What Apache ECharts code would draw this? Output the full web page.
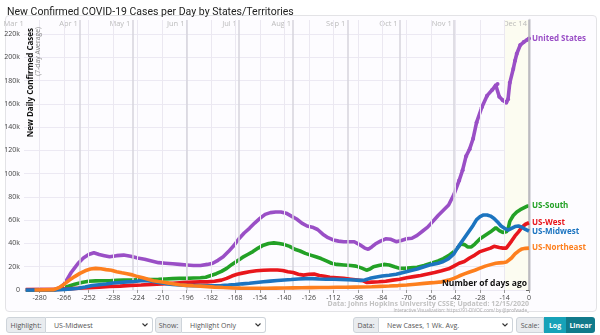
<!DOCTYPE html>
<html><head><meta charset="utf-8">
<script src="https://cdn.jsdelivr.net/npm/echarts@6/dist/echarts.min.js"></script>
<style>
html,body{margin:0;padding:0;background:#fff;}
#wrap{position:relative;width:600px;height:335px;overflow:hidden;font-family:'Open Sans',Roboto,sans-serif;}
#panel{position:absolute;left:5px;top:15px;width:592px;height:297px;box-sizing:border-box;border:1px solid #e3e3e6;border-radius:4px;background:#fdfcff;}
#chart{position:absolute;left:0;top:0;width:600px;height:335px;}
.ctl{position:absolute;top:317px;height:16px;display:flex;font-size:7px;color:#555;z-index:5;}
.lab{background:#e9ecef;border:1px solid #ced4da;border-radius:3px 0 0 3px;display:flex;align-items:center;justify-content:center;box-sizing:border-box;}
.sel{background:#fff;border:1px solid #ced4da;border-left:none;border-radius:0 3px 3px 0;display:flex;align-items:center;justify-content:space-between;padding:0 4px 0 8px;box-sizing:border-box;}
.btn{display:flex;align-items:center;justify-content:center;color:#fff;font-weight:bold;box-sizing:border-box;}
</style></head>
<body><div id="wrap">
<div id="panel"></div>
<div id="chart"></div>
<div class="ctl" style="left:6px;"><div class="lab" style="width:40px">Highlight:</div><div class="sel" style="width:107px"><span>US-Midwest</span><svg width="6" height="4"><path d="M0.5 0.5 L3 3 L5.5 0.5" stroke="#333" stroke-width="1.1" fill="none"/></svg></div></div>
<div class="ctl" style="left:155px;"><div class="lab" style="width:27px">Show:</div><div class="sel" style="width:84px"><span>Highlight Only</span><svg width="6" height="4"><path d="M0.5 0.5 L3 3 L5.5 0.5" stroke="#333" stroke-width="1.1" fill="none"/></svg></div></div>
<div class="ctl" style="left:353px;"><div class="lab" style="width:26px">Data:</div><div class="sel" style="width:134px"><span>New Cases, 1 Wk. Avg.</span><svg width="6" height="4"><path d="M0.5 0.5 L3 3 L5.5 0.5" stroke="#333" stroke-width="1.1" fill="none"/></svg></div></div>
<div class="ctl" style="left:516px;"><div class="lab" style="width:28px">Scale:</div><div class="btn" style="width:22px;background:#17a2b8;">Log</div><div class="btn" style="width:29px;background:#117a8b;border-radius:0 3px 3px 0;">Linear</div></div>
</div>
<script>
// ---- data (values in thousands of cases, 7-day average) ----
const xTicks = [-280,-266,-252,-238,-224,-210,-196,-182,-168,-154,-140,-126,-112,-98,-84,-70,-56,-42,-28,-14,0];
const monthDays = [-288,-257,-227,-196,-166,-135,-104,-74,-43,0];
const monthLabels = ['Mar 1','Apr 1','May 1','Jun 1','Jul 1','Aug 1','Sep 1','Oct 1','Nov 1','Dec 14'];
const yTickStep = 20000;

const usDays = [-288,-271,-268,-266,-264,-262,-260,-258,-255,-252,-249,-246,-243,-240,-236,-232,-228,-224,-220,-216,-212,-208,-204,-200,-196,-192,-188,-184,-181,-178,-175,-172,-169,-166,-163,-160,-157,-154,-151,-148,-145,-142,-139,-136,-133,-130,-127,-124,-121,-118,-115,-112,-109,-106,-103,-100,-97,-94,-92,-90,-88,-85,-82,-79,-76,-73,-70,-67,-64,-61,-58,-55,-52,-49,-46,-43,-40,-38,-36,-34,-32,-30,-27,-24,-21,-19,-18,-17,-15,-13,-12,-11,-9,-8,-7,-5,-3,-1,0];
const usVals = [0.1,0.5,2.5,5,10,15,19,23,27.5,30.5,32,30.5,29.5,28.5,29.5,30,29,27.5,26.5,25,23.5,23,22.5,22,21.5,21,21,22,23,25.5,28.5,33,38,44,49,53,57.5,61.5,65,66.5,67,67,66,63.5,61,57.5,55,54,52,48,45,43,42,41.5,41.5,41.5,39,36,35,37,39.5,42,44,43.6,41.5,42.5,44,44.5,47,50.5,54,59,64,68.5,73,82,94,103,115,121,130,144,157,167,172,176,177,166,163,161,164,178,190,197,203,210.5,213,215,216];

const southDays = [-288,-272,-268,-264,-260,-256,-252,-248,-244,-240,-236,-232,-228,-224,-220,-216,-212,-208,-204,-200,-196,-192,-188,-185,-182,-179,-176,-173,-170,-167,-164,-161,-158,-155,-152,-149,-146,-143,-140,-137,-134,-131,-128,-125,-122,-119,-116,-113,-110,-106,-102,-99,-96,-93,-91,-89,-86,-83,-80,-77,-74,-71,-68,-64,-60,-56,-52,-49,-46,-43,-41,-39,-37,-35,-33,-31,-28,-25,-22,-19,-18,-17,-15,-13,-12,-11,-9,-7,-5,-3,-1,0];
const southVals = [0,0.2,1,3,5,6.5,7.5,7.8,8,8,8.3,8.6,8.6,8.8,9,9,9.2,9.5,9.8,10,10,10.3,10.5,11,12.5,14,16,18.6,22,25,28,30.5,33,36,38.5,40,40.5,40,39,37.5,35,33.5,31.5,30,28.5,27,25,23,22,21.5,21,20.5,19,17,18,20,21,22,21.5,20,18.6,18.6,19,19.5,21,23,25,27,29.5,33,36,39.5,39,37,37,39.5,44,47,50,53.5,55,51,49.5,50,52,59,64,67,69,70.5,72,72.5];

const westDays = [-288,-270,-264,-258,-252,-246,-240,-234,-228,-222,-216,-210,-204,-198,-192,-188,-184,-180,-176,-173,-170,-167,-164,-160,-156,-152,-148,-144,-141,-138,-135,-132,-129,-126,-123,-120,-117,-114,-110,-106,-102,-98,-95,-93,-90,-86,-82,-78,-74,-70,-66,-62,-58,-54,-50,-46,-43,-40,-37,-34,-31,-28,-25,-22,-20,-19,-17,-15,-13,-12,-10,-8,-6,-4,-2,0];
const westVals = [0.4,0.5,1,1.5,2,2.5,3,3.3,4,4.3,4.8,5.3,5.8,6.3,6.8,7,7,7.5,8.5,10,12,13.5,14.5,15.7,16.6,17,17.2,17.2,16.8,15.7,15,13.5,12.8,13.5,13.8,12.5,11.8,11,10.5,10,9.3,8.6,8,6.5,6.8,7.1,7.5,8.5,9.2,10.5,11.5,12.5,13.8,15,16.5,18.2,20.5,23,24.5,27.5,30,33,34.5,36,37.5,38.7,36.5,36,36,37,42,46.5,50,54,56.5,57.8];

const midwestDays = [-288,-272,-266,-262,-258,-254,-250,-246,-242,-238,-234,-230,-226,-222,-218,-215,-212,-208,-204,-200,-196,-192,-188,-184,-180,-176,-172,-168,-164,-160,-156,-152,-148,-144,-140,-136,-132,-128,-124,-120,-116,-112,-108,-104,-100,-97,-94,-91,-88,-84,-80,-76,-72,-68,-64,-60,-56,-52,-49,-46,-43,-41,-38,-35,-32,-30,-28,-26,-24,-22,-20,-18,-16,-14,-12,-10,-8,-6,-4,-2,0];
const midwestVals = [0,0.1,0.5,1,1.5,2.5,3.8,4.5,5.2,6,6.5,7,7.3,8,8,7.3,6.5,5.5,4.8,4.3,4,3.8,3.8,3.6,3.6,3.8,4.2,4.7,5.3,5.8,6.5,7.1,7.6,8.1,8.6,9,9.5,9.8,9.8,9.5,9.3,9.2,9,8.8,8.6,8.3,8.6,10,11,12,12.7,13.5,15,16.6,18,20,21.8,23,24.5,27,31,36,42.5,49,55.5,60.5,63,64.5,64.5,63.5,61.5,58.5,55,53,51.5,53,54.5,55,54,52,50.5];

const northeastDays = [-283,-272,-269,-266,-263,-260,-257,-254,-251,-248,-245,-242,-239,-236,-233,-230,-227,-224,-221,-218,-215,-212,-209,-206,-203,-200,-196,-192,-188,-184,-180,-175,-170,-165,-160,-155,-150,-145,-140,-135,-130,-125,-120,-115,-110,-105,-100,-95,-90,-85,-80,-75,-70,-65,-60,-55,-50,-46,-43,-40,-37,-34,-31,-28,-25,-22,-19,-17,-15,-13,-12,-10,-8,-6,-4,-2,0];
const northeastVals = [0,0.3,2,5,8.5,11.5,14.3,16.5,18,18.6,18.2,17.5,17,15.7,14.8,14,13,11.5,10.5,9.2,8,7.3,6.7,5.9,5.2,4.5,4,3.6,3.3,2.9,2.5,2.1,1.8,1.6,1.5,1.5,1.5,1.6,1.7,1.8,1.9,2,2.1,2.2,2.3,2.4,2.5,2.6,2.8,3.1,3.4,3.8,4.3,5,5.7,6.3,7,8.5,10,12,13.8,15.5,17,18.8,20.5,21.8,23,23.3,23.5,24,24.5,27.5,31,33.5,35.3,35.8,36];

const seriesNames = ['United States','US-South','US-West','US-Midwest','US-Northeast'];
const seriesColors = ['#9a4fc6','#23a126','#e8161c','#1c74c0','#fd7f1e'];
// ---------------------------------------------

const font = "'Open Sans', Roboto, sans-serif";
const allDays = [usDays, southDays, westDays, midwestDays, northeastDays];
const allVals = [usVals, southVals, westVals, midwestVals, northeastVals];

function buildData(days, vals, dotted) {
  return days.map((d, i) => {
    const item = { value: [d, vals[i] * 1000] };
    if (dotted && d >= -40) { item.symbol = 'circle'; item.symbolSize = 4; }
    else item.symbol = 'none';
    return item;
  });
}

const lineSeries = seriesNames.map((name, k) => ({
  type: 'line',
  name: name,
  data: buildData(allDays[k], allVals[k], k === 0),
  showSymbol: true,
  showAllSymbol: true,
  symbol: 'none',
  lineStyle: { width: 3.6, color: seriesColors[k] },
  itemStyle: { color: seriesColors[k] },
  z: 3 + k,
  clip: false,
  emphasis: { disabled: true },
  endLabel: {
    show: true, formatter: '{a}', color: seriesColors[k],
    fontWeight: 'bold', fontSize: 8, fontFamily: font, distance: 3
  }
}));

const helper = {
  type: 'line', data: [], z: 1, silent: true,
  markArea: {
    silent: true,
    itemStyle: { color: '#fcfcf1' },
    data: [[{ xAxis: -14 }, { xAxis: 0 }]]
  },
  markLine: {
    silent: true, symbol: ['none', 'none'], label: { show: false },
    animation: false,
    data: [
      ...xTicks.filter(v => v !== 0).map(v => ({ xAxis: v, lineStyle: { color: '#ebe8f1', width: 1, type: 'solid' } })),
      ...monthDays.filter(v => v !== 0 && v !== -288).map(v => ({ xAxis: v, lineStyle: { color: '#d6d5dc', width: 1.5, type: 'solid' } })),
      { xAxis: 0, lineStyle: { color: '#b4b3ba', width: 1.5, type: 'solid' } }
    ]
  }
};

const monthSeries = {
  type: 'scatter', z: 2, silent: true, symbolSize: 0.1,
  itemStyle: { color: 'rgba(0,0,0,0)' },
  data: monthDays.map((d, i) => ({ value: [d, 232000], name: monthLabels[i] })),
  label: { show: true, position: 'left', distance: 2, offset: [0, 4], formatter: '{b}', fontSize: 7.5, color: '#ababab', fontFamily: font }
};

const option = {
  animation: false,
  title: {
    text: 'New Confirmed COVID-19 Cases per Day by States/Territories',
    left: 2, top: 2,
    textStyle: { fontSize: 10.5, fontWeight: 'normal', color: '#222', fontFamily: 'Roboto' }
  },
  grid: { left: 24, right: 71, top: 20, bottom: 45 },
  xAxis: {
    type: 'value', min: -289, max: 0,
    axisLine: { show: false },
    splitLine: { show: false },
    axisTick: { show: true, length: 3, customValues: xTicks, lineStyle: { color: '#999' } },
    axisLabel: { customValues: xTicks, fontSize: 7, color: '#444', margin: 4, fontFamily: font }
  },
  yAxis: {
    type: 'value', min: 0, max: 232000, interval: yTickStep,
    axisLine: { show: true, lineStyle: { color: '#d3d3d8', width: 2.5 } },
    axisTick: { show: true, length: 3, lineStyle: { color: '#666' } },
    splitLine: { show: true, showMaxLine: false, lineStyle: { color: '#ece9f3', width: 1 } },
    axisLabel: {
      fontSize: 7, color: '#444', margin: 4, fontFamily: font, showMaxLabel: false,
      formatter: v => (v % yTickStep !== 0 ? '' : (v === 0 ? '0' : (v / 1000) + 'k'))
    }
  },
  graphic: [
    { type: 'text', x: 31, y: 28, rotation: Math.PI / 2, z: 10,
      style: { text: 'New Daily Confirmed Cases', fontSize: 8, fontWeight: 'bold', fontFamily: font, fill: '#111', align: 'right', verticalAlign: 'middle', textAlign: 'right', textVerticalAlign: 'middle' } },
    { type: 'text', x: 38.5, y: 27, rotation: Math.PI / 2, z: 10,
      style: { text: '(7-day Average)', fontSize: 6.8, fontFamily: font, fill: '#858585', align: 'right', verticalAlign: 'middle', textAlign: 'right', textVerticalAlign: 'middle' } },
    { type: 'text', x: 527, y: 284, z: 10,
      style: { text: 'Number of days ago', fontSize: 8.5, fontWeight: 'bold', fontFamily: font, fill: '#111', align: 'right', verticalAlign: 'middle', textAlign: 'right', textVerticalAlign: 'middle' } },
    { type: 'text', x: 529, y: 304, z: 10,
      style: { text: 'Data: Johns Hopkins University CSSE; Updated: 12/15/2020', fontSize: 7, fontWeight: 'bold', fontFamily: font, fill: '#c2c2c2', align: 'right', verticalAlign: 'middle', textAlign: 'right', textVerticalAlign: 'middle' } },
    { type: 'text', x: 529, y: 311, z: 10,
      style: { text: 'Interactive Visualization: https://91-DIVOC.com/ by @profwade_', fontSize: 4.6, fontFamily: font, fill: '#a8a8a8', align: 'right', verticalAlign: 'middle', textAlign: 'right', textVerticalAlign: 'middle' } }
  ],
  series: [helper, monthSeries, ...lineSeries]
};

const chart = echarts.init(document.getElementById('chart'), null, { renderer: 'canvas' });
chart.setOption(option);
</script>
</body></html>
